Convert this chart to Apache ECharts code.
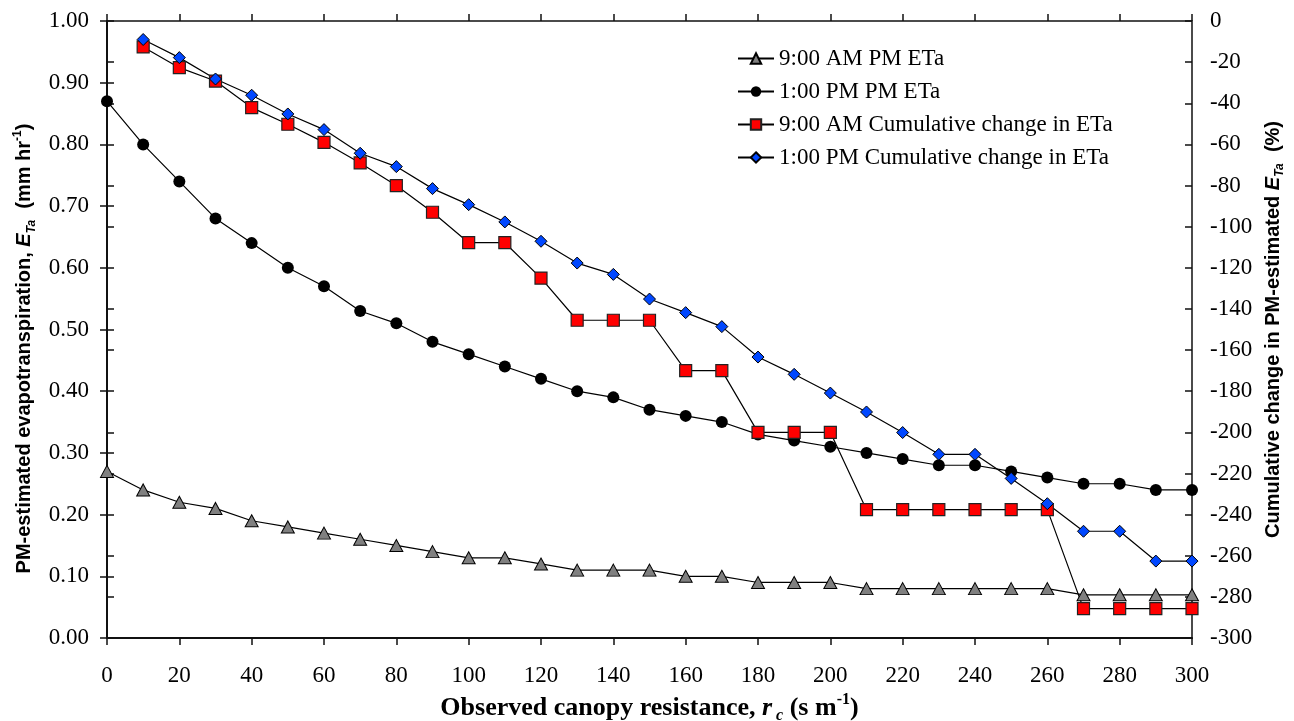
<!DOCTYPE html>
<html>
<head>
<meta charset="utf-8">
<title>PM-estimated ETa vs canopy resistance</title>
<script src="https://cdn.jsdelivr.net/npm/echarts@6/dist/echarts.min.js"></script>
<style>
  html, body { margin: 0; padding: 0; background: #fff; }
  #chart { width: 1294px; height: 721px; }
</style>
</head>
<body>
<div id="chart"></div>
<script>
  // observed canopy resistance (s m-1)
  const rc = [0, 10, 20, 30, 40, 50, 60, 70, 80, 90, 100, 110, 120, 130, 140, 150,
    160, 170, 180, 190, 200, 210, 220, 230, 240, 250, 260, 270, 280, 290, 300]

  // PM-estimated ETa (mm hr-1), left axis
  const am9Eta = [0.27, 0.24, 0.22, 0.21, 0.19, 0.18, 0.17, 0.16, 0.15, 0.14, 0.13, 0.13, 0.12, 0.11, 0.11, 0.11,
    0.10, 0.10, 0.09, 0.09, 0.09, 0.08, 0.08, 0.08, 0.08, 0.08, 0.08, 0.07, 0.07, 0.07, 0.07]
  const pm1Eta = [0.87, 0.80, 0.74, 0.68, 0.64, 0.60, 0.57, 0.53, 0.51, 0.48, 0.46, 0.44, 0.42, 0.40, 0.39, 0.37,
    0.36, 0.35, 0.33, 0.32, 0.31, 0.30, 0.29, 0.28, 0.28, 0.27, 0.26, 0.25, 0.25, 0.24, 0.24]

  // cumulative change in ETa (%), right axis (no value at rc = 0)
  const am9Change = [null, -12.6, -22.7, -29.2, -42.1, -50.2, -59.0, -69.0, -80.0, -93.0, -107.8, -107.8, -125.0, -145.5, -145.5, -145.5,
    -170.0, -170.0, -200.0, -200.0, -200.0, -237.6, -237.6, -237.6, -237.6, -237.6, -237.6, -285.7, -285.7, -285.7, -285.7]
  const pm1Change = [null, -9.0, -17.8, -28.2, -36.1, -45.2, -52.8, -64.3, -70.8, -81.5, -89.3, -97.7, -107.1, -117.7, -123.2, -135.2,
    -141.8, -148.6, -163.4, -171.8, -180.9, -190.1, -200.1, -210.7, -210.7, -222.4, -234.7, -248.1, -248.1, -262.6, -262.6]

  const seriesNames = [
    '9:00 AM PM ETa',
    '1:00 PM PM ETa',
    '9:00 AM Cumulative change in ETa',
    '1:00 PM Cumulative change in ETa'
  ]

  const xRange = [0, 300, 20]
  const leftRange = [0, 1, 0.1]
  const rightRange = [-300, 0, 20]

  const pairs = (vals) => rc.map((x, i) => [x, vals[i]]).filter(p => p[1] !== null)

  const serif = 'Liberation Serif'
  const sans = 'Liberation Sans'
  const axisColor = '#111'

  const tickStyle = { color: axisColor, width: 1.5 }

  // label style of the rich axis titles
  const titleRich = (family, size) => ({
    t: { fontFamily: family, fontWeight: 'bold', fontSize: size, lineHeight: size + 6, color: '#000', verticalAlign: 'middle' },
    e: { fontFamily: family, fontWeight: 'bold', fontStyle: 'italic', fontSize: size, lineHeight: size + 6, color: '#000', verticalAlign: 'middle' },
    s: { fontFamily: family, fontWeight: 'bold', fontStyle: 'italic', fontSize: Math.round(size * 0.6), lineHeight: Math.round(size * 0.6), color: '#000', verticalAlign: 'bottom' },
    p: { fontFamily: family, fontWeight: 'bold', fontSize: Math.round(size * 0.6), lineHeight: Math.round(size * 0.6), color: '#000', verticalAlign: 'top' }
  })

  // extra axis used only to draw the inner half of the ticks
  const innerTicks = (range, position) => ({
    type: 'value',
    position: position,
    min: range[0],
    max: range[1],
    interval: range[2],
    axisLine: { show: false },
    axisTick: { show: true, inside: true, length: 7, lineStyle: tickStyle },
    axisLabel: { show: false },
    splitLine: { show: false }
  })

  const chart = echarts.init(document.getElementById('chart'))

  const option = {
    animation: false,
    backgroundColor: '#fff',
    grid: {
      left: 107,
      right: 102,
      top: 21,
      bottom: 83,
      outerBoundsMode: 'none',
      containLabel: false,
      show: true,
      borderColor: axisColor,
      borderWidth: 1.5,
      backgroundColor: 'transparent'
    },
    legend: {
      orient: 'vertical',
      left: 732,
      top: 42,
      itemWidth: 36,
      itemHeight: 13,
      itemGap: 10,
      data: seriesNames,
      textStyle: { fontFamily: serif, fontSize: 23, color: '#000' }
    },
    xAxis: [
      {
        type: 'value',
        position: 'bottom',
        min: xRange[0],
        max: xRange[1],
        interval: xRange[2],
        axisLine: { show: true, lineStyle: { color: axisColor, width: 2 } },
        axisTick: { show: true, length: 7, lineStyle: tickStyle },
        axisLabel: { margin: 26, fontFamily: serif, fontSize: 23, color: '#000' },
        splitLine: { show: false },
        name: '{t|Observed canopy resistance, }{e|r}{s| c}{t| (s m}{p|-1}{t|)}',
        nameLocation: 'middle',
        nameGap: 54,
        nameTextStyle: { fontFamily: serif, fontWeight: 'bold', fontSize: 26, color: '#000', rich: titleRich(serif, 26) }
      },
      innerTicks(xRange, 'bottom')
    ],
    yAxis: [
      {
        type: 'value',
        position: 'left',
        min: leftRange[0],
        max: leftRange[1],
        interval: leftRange[2],
        axisLine: { show: true, lineStyle: { color: axisColor, width: 2 } },
        axisTick: { show: true, length: 7, lineStyle: tickStyle },
        axisLabel: { margin: 18, fontFamily: serif, fontSize: 23, color: '#000', formatter: v => v.toFixed(2) },
        splitLine: { show: false },
        name: '{t|PM-estimated evapotranspiration, }{e|E}{s|Ta}{t|  (mm hr}{p|-1}{t|)}',
        nameLocation: 'middle',
        nameGap: 68,
        nameTextStyle: { fontFamily: sans, fontWeight: 'bold', fontSize: 20, color: '#000', padding: [0, 38, 0, 0], rich: titleRich(sans, 20) }
      },
      {
        type: 'value',
        position: 'right',
        min: rightRange[0],
        max: rightRange[1],
        interval: rightRange[2],
        axisLine: { show: true, lineStyle: { color: axisColor, width: 2 } },
        axisTick: { show: true, length: 7, lineStyle: tickStyle },
        axisLabel: { margin: 18, fontFamily: serif, fontSize: 23, color: '#000' },
        splitLine: { show: false },
        name: '{t|Cumulative change in PM-estimated }{e|E}{s|Ta}{t|  (%)}',
        nameLocation: 'middle',
        nameGap: 68,
        nameTextStyle: { fontFamily: sans, fontWeight: 'bold', fontSize: 20, color: '#000', rich: titleRich(sans, 20) }
      },
      innerTicks(leftRange, 'left'),
      innerTicks(rightRange, 'right')
    ],
    series: [
      {
        name: seriesNames[0],
        type: 'line',
        yAxisIndex: 0,
        data: pairs(am9Eta),
        symbol: 'triangle',
        symbolSize: [13, 12],
        itemStyle: { color: '#808080', borderColor: '#000', borderWidth: 1 },
        lineStyle: { color: '#000', width: 1.2 }
      },
      {
        name: seriesNames[1],
        type: 'line',
        yAxisIndex: 0,
        data: pairs(pm1Eta),
        symbol: 'circle',
        symbolSize: 12,
        itemStyle: { color: '#000', borderColor: '#000', borderWidth: 0 },
        lineStyle: { color: '#000', width: 1.2 }
      },
      {
        name: seriesNames[2],
        type: 'line',
        yAxisIndex: 1,
        data: pairs(am9Change),
        symbol: 'rect',
        symbolSize: 12,
        itemStyle: { color: '#ff0000', borderColor: '#222', borderWidth: 1.2 },
        lineStyle: { color: '#000', width: 1.2 }
      },
      {
        name: seriesNames[3],
        type: 'line',
        yAxisIndex: 1,
        data: pairs(pm1Change),
        symbol: 'diamond',
        symbolSize: 12,
        itemStyle: { color: '#0047ff', borderColor: '#000', borderWidth: 1 },
        lineStyle: { color: '#000', width: 1.2 }
      }
    ]
  }

  chart.setOption(option)
</script>
</body>
</html>
